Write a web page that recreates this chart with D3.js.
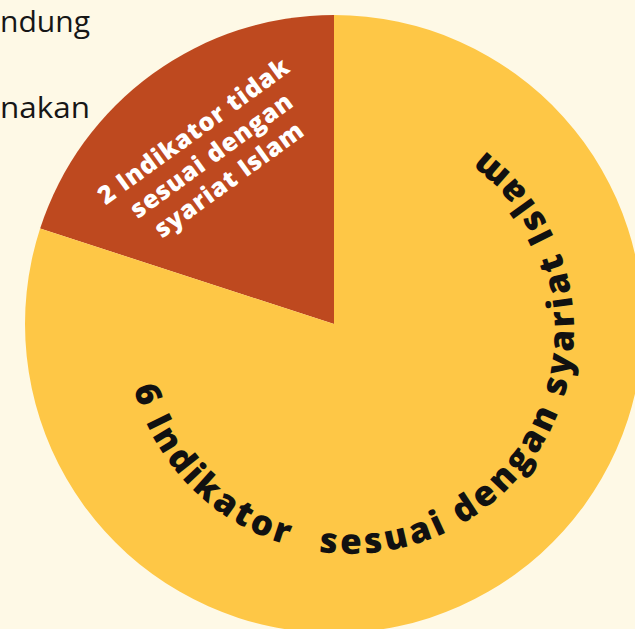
<!DOCTYPE html>
<html>
<head>
<meta charset="utf-8">
<script src="https://cdn.jsdelivr.net/npm/d3@7"></script>
<style>
  html, body { margin: 0; padding: 0; background: #fef9e6; overflow: hidden; }
</style>
</head>
<body>
<div id="chart-container"></div>
<script>
/**************************************************
 * Data
 **************************************************/

// Slices, in drawing order (starting just left of 12 o'clock)
const categories = ["2 Indikator tidak sesuai dengan syariat Islam", "6 Indikator sesuai dengan syariat Islam"];
const shares = [20, 80];
const colors = ["#be491f", "#fec746"];

// Red slice label, one entry per line
const innerLabelLines = ["2 Indikator tidak", "sesuai dengan", "syariat Islam"];
// Curved label of the big slice, in two runs with a gap between them
const curvedLabelParts = ["6 Indikator", "sesuai dengan syariat Islam"];

// Cut-off text from the page, top left
const sideTexts = ["ndung", "nakan"];

/**************************************************
 * Rendering
 **************************************************/

const width = 635, height = 629;
const cx = 334, cy = 324, radius = 309;

const svg = d3.select("#chart-container")
  .append("svg")
  .attr("width", width)
  .attr("height", height);

svg.append("rect")
  .attr("width", width)
  .attr("height", height)
  .attr("fill", "#fef9e6");

// page text peeking in on the left
svg.selectAll(".side-text")
  .data(sideTexts)
  .enter()
  .append("text")
  .attr("class", "side-text")
  .attr("x", 0)
  .attr("y", (d, i) => 32 + i * 86)
  .attr("textLength", 90)
  .attr("lengthAdjust", "spacingAndGlyphs")
  .attr("font-family", "'Open Sans', sans-serif")
  .attr("font-weight", 400)
  .attr("font-size", "30px")
  .attr("fill", "#161616")
  .text(d => d);

const pie = d3.pie()
  .sort(null)
  .startAngle(-0.4 * Math.PI)
  .endAngle(1.6 * Math.PI);

const arcs = pie(shares);

const arc = d3.arc().innerRadius(0).outerRadius(radius);

const g = svg.append("g").attr("transform", `translate(${cx},${cy})`);

g.selectAll(".slice")
  .data(arcs)
  .enter()
  .append("path")
  .attr("class", "slice")
  .attr("d", arc)
  .attr("fill", (d, i) => colors[i]);

// label inside the small slice, turned across its bisector
const small = arcs[0];
const mid = (small.startAngle + small.endAngle) / 2;
const labelR = 208;
const lx = labelR * Math.sin(mid), ly = -labelR * Math.cos(mid);
const lineH = 30;

const inner = g.append("text")
  .attr("transform", `translate(${lx},${ly}) rotate(${mid * 180 / Math.PI})`)
  .attr("text-anchor", "middle")
  .attr("font-family", "'Open Sans', 'DejaVu Sans', sans-serif")
  .attr("font-weight", 800)
  .attr("font-size", "25px")
  .attr("letter-spacing", "0.8")
  .attr("fill", "#ffffff");

inner.selectAll("tspan")
  .data(innerLabelLines)
  .enter()
  .append("tspan")
  .attr("x", 0)
  .attr("y", (d, i) => (i - 1) * lineH + 8)
  .text(d => d);

// curved label of the big slice (circle sits a little off the pie centre)
const tcx = 16, tcy = 6, textR = 224;
const deg = Math.PI / 180;
const runs = [
  { text: curvedLabelParts[0], a0: 165 * deg, a1: 106.5 * deg },
  { text: curvedLabelParts[1], a0: 98 * deg, a1: -53 * deg }
];

runs.forEach((r, i) => {
  const p = d3.path();
  p.moveTo(tcx + textR * Math.cos(r.a0), tcy + textR * Math.sin(r.a0));
  p.arc(tcx, tcy, textR, r.a0, r.a1, true);
  g.append("path")
    .attr("id", "curve" + i)
    .attr("d", p.toString())
    .attr("fill", "none");

  const t = g.append("text")
    .attr("font-family", "'Open Sans', 'DejaVu Sans', sans-serif")
    .attr("font-weight", 800)
    .attr("font-size", "35px")
    .attr("fill", "#111111");
  t.append("textPath")
    .attr("href", "#curve" + i)
    .text(r.text);

  // stretch the letters to fill the arc
  const target = textR * Math.abs(r.a0 - r.a1);
  const len = t.node().getComputedTextLength();
  const spacing = (target - len) / (r.text.length - 1);
  t.attr("letter-spacing", spacing.toFixed(2));
});
</script>
</body>
</html>
